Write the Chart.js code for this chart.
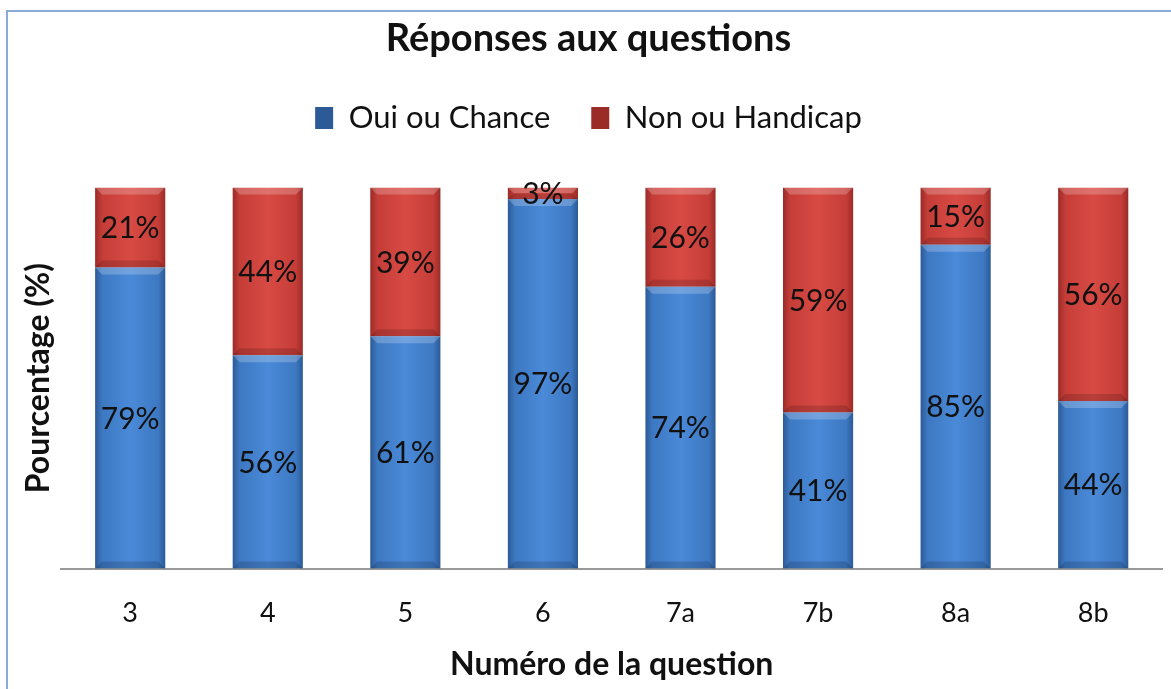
<!DOCTYPE html>
<html>
<head>
<meta charset="utf-8">
<script src="https://cdn.jsdelivr.net/npm/chart.js@4.4.1/dist/chart.umd.min.js"></script>
<style>
  body { margin: 0; background: #fff; }
  #frame {
    position: absolute; left: 6px; top: 10px; width: 1170px; height: 690px;
    border-top: 2px solid #8aaad8; border-left: 2px solid #8aaad8;
    box-sizing: border-box;
  }
  #wrap { position: absolute; left: 0; top: 0; width: 1163px; height: 677px; }
</style>
</head>
<body>
<div id="frame"><div id="wrap"><canvas id="reponses"></canvas></div></div>
<script>
  "use strict";

  // data
  const questions = ["3", "4", "5", "6", "7a", "7b", "8a", "8b"];
  const ouiChance = [79, 56, 61, 97, 74, 41, 85, 44];
  const nonHandicap = [21, 44, 39, 3, 26, 59, 15, 56];

  const FONT = "Lato, 'Open Sans', sans-serif";
  const BAR_PCT = 0.51;

  // horizontal shading like the excel bevel bars
  function barGradient(dark, mid, light) {
    return function (context) {
      const chart = context.chart;
      const xs = chart.scales.x;
      if (!chart.chartArea || !xs || context.dataIndex === undefined) return mid;
      const cx = xs.getPixelForValue(context.dataIndex);
      const w = (xs.width / questions.length) * BAR_PCT;
      const g = chart.ctx.createLinearGradient(cx - w / 2, 0, cx + w / 2, 0);
      g.addColorStop(0, dark);
      g.addColorStop(0.1, mid);
      g.addColorStop(0.5, light);
      g.addColorStop(0.9, mid);
      g.addColorStop(1, dark);
      return g;
    };
  }

  // extra room under the legend
  const legendGap = {
    id: 'legendGap',
    beforeInit(chart) {
      const fit = chart.legend.fit;
      chart.legend.fit = function () {
        fit.bind(chart.legend)();
        this.height += 44;
      };
    }
  };

  const valueLabels = {
    id: 'valueLabels',
    afterDatasetsDraw(chart) {
      const { ctx } = chart;
      ctx.save();
      // little bevel: light band on top, darker band at the bottom of each segment
      chart.data.datasets.forEach((ds, i) => {
        chart.getDatasetMeta(i).data.forEach((bar) => {
          const p = bar.getProps(['x', 'y', 'base', 'width'], true);
          const l = p.x - p.width / 2, r = p.x + p.width / 2;
          const b = Math.min(7, (p.base - p.y) / 2);
          ctx.fillStyle = 'rgba(255,255,255,0.22)';
          ctx.beginPath();
          ctx.moveTo(l, p.y); ctx.lineTo(r, p.y);
          ctx.lineTo(r - b, p.y + b); ctx.lineTo(l + b, p.y + b);
          ctx.closePath(); ctx.fill();
          ctx.fillStyle = 'rgba(0,0,0,0.15)';
          ctx.beginPath();
          ctx.moveTo(l, p.base); ctx.lineTo(r, p.base);
          ctx.lineTo(r - b, p.base - b); ctx.lineTo(l + b, p.base - b);
          ctx.closePath(); ctx.fill();
        });
      });
      ctx.font = "30px " + FONT;
      ctx.fillStyle = '#111';
      ctx.textAlign = 'center';
      ctx.textBaseline = 'middle';
      chart.data.datasets.forEach((ds, i) => {
        chart.getDatasetMeta(i).data.forEach((bar, j) => {
          const p = bar.getProps(['x', 'y', 'base'], true);
          ctx.fillText(ds.data[j] + '%', p.x, (p.y + p.base) / 2 + 1);
        });
      });
      ctx.restore();
    }
  };

  new Chart(document.getElementById('reponses'), {
    type: 'bar',
    data: {
      labels: questions,
      datasets: [
        {
          label: 'Oui ou Chance',
          data: ouiChance,
          backgroundColor: barGradient('#2c5a96', '#3d78c2', '#4a8ad8'),
          borderWidth: 0,
          barPercentage: BAR_PCT,
          categoryPercentage: 1
        },
        {
          label: 'Non ou Handicap',
          data: nonHandicap,
          backgroundColor: barGradient('#9a2b27', '#c53d38', '#d84a44'),
          borderWidth: 0,
          barPercentage: BAR_PCT,
          categoryPercentage: 1
        }
      ]
    },
    options: {
      responsive: true,
      maintainAspectRatio: false,
      animation: false,
      layout: { padding: { left: 7, right: 9, top: 4, bottom: 0 } },
      plugins: {
        title: {
          display: true,
          text: 'Réponses aux questions',
          color: '#111',
          font: { family: FONT, size: 38, weight: 'bold' },
          padding: { top: 0, bottom: 0 }
        },
        legend: {
          position: 'top',
          labels: {
            color: '#111',
            font: { family: FONT, size: 31 },
            boxWidth: 18,
            boxHeight: 22,
            padding: 41
          }
        },
        tooltip: { enabled: false }
      },
      scales: {
        x: {
          stacked: true,
          grid: { display: false },
          border: { display: true, color: '#999', width: 2 },
          ticks: { color: '#111', font: { family: FONT, size: 27 }, padding: 20 },
          title: {
            display: true,
            text: 'Numéro de la question',
            color: '#111',
            font: { family: FONT, size: 32, weight: 'bold', lineHeight: 1 },
            padding: { top: 0, bottom: 8 }
          }
        },
        y: {
          stacked: true,
          min: 0,
          max: 100,
          grid: { display: false, drawTicks: false },
          border: { display: false },
          ticks: { display: false },
          title: {
            display: true,
            text: 'Pourcentage (%)',
            color: '#111',
            font: { family: FONT, size: 32, weight: 'bold' },
            padding: { top: 4, bottom: 4 }
          }
        }
      }
    },
    plugins: [legendGap, valueLabels]
  });
</script>
</body>
</html>
